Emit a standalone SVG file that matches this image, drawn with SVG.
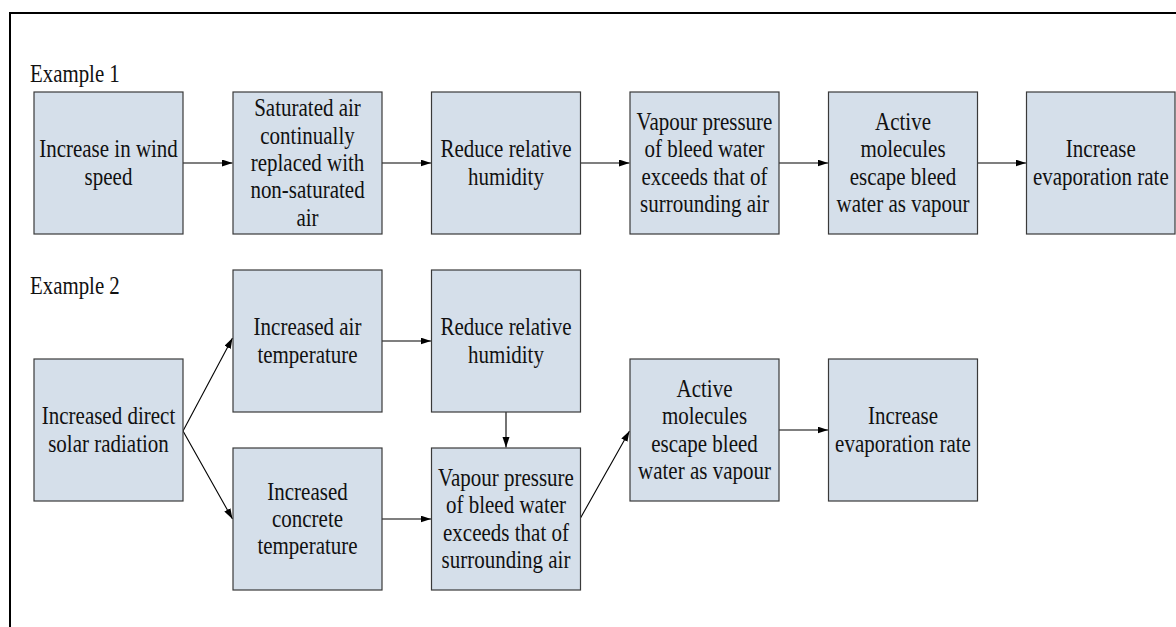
<svg xmlns="http://www.w3.org/2000/svg" width="1176" height="627" viewBox="0 0 1176 627">
<style>
.bg{fill:#ffffff}
.frame{fill:none;stroke:#000000;stroke-width:2}
.box{fill:#d5dfea;stroke:#3a3a3a;stroke-width:1.2}
.t{font-family:"Liberation Serif","Times New Roman",serif;font-size:25px;fill:#111111;text-anchor:middle}
.lbl{font-family:"Liberation Serif","Times New Roman",serif;font-size:25px;fill:#111111;text-anchor:start}
.c{fill:none;stroke:#000000;stroke-width:1.1}
</style>
<defs>
<marker id="arr" markerUnits="userSpaceOnUse" markerWidth="11" markerHeight="8" refX="10.5" refY="3.5" orient="auto">
<path d="M0,0 L10.5,3.5 L0,7 z" fill="#000000"/>
</marker>
</defs>
<rect class="bg" x="0" y="0" width="1176" height="627"/>
<path class="frame" d="M10,627 V13 H1176"/>
<text class="lbl" transform="translate(30 0) scale(0.835 1)" x="0" y="82">Example 1</text>
<text class="lbl" transform="translate(30 0) scale(0.835 1)" x="0" y="294">Example 2</text>

<g id="connectors">
<path class="c" marker-end="url(#arr)" d="M183,163 H232.5"/>
<path class="c" marker-end="url(#arr)" d="M382,163 H431"/>
<path class="c" marker-end="url(#arr)" d="M580.5,163 H629.5"/>
<path class="c" marker-end="url(#arr)" d="M779,163 H828"/>
<path class="c" marker-end="url(#arr)" d="M977.5,163 H1026"/>
<path class="c" marker-end="url(#arr)" d="M183,431 L232.5,338"/>
<path class="c" marker-end="url(#arr)" d="M183,431 L232.5,519"/>
<path class="c" marker-end="url(#arr)" d="M382,341 H431"/>
<path class="c" marker-end="url(#arr)" d="M382,519 H431"/>
<path class="c" marker-end="url(#arr)" d="M506,412 V447.5"/>
<path class="c" marker-end="url(#arr)" d="M580.5,518 L629.5,431"/>
<path class="c" marker-end="url(#arr)" d="M778.5,430 H828"/>
</g>

<g id="e1-wind">
<rect class="box" x="34" y="92" width="149" height="142"/>
<text class="t" transform="translate(108.5 0) scale(0.84 1)"><tspan x="0" y="157.3">Increase in wind</tspan><tspan x="0" y="184.7">speed</tspan></text>
</g>
<g id="e1-saturated">
<rect class="box" x="233" y="92" width="149" height="142"/>
<text class="t" transform="translate(307.5 0) scale(0.84 1)"><tspan x="0" y="116.2">Saturated air</tspan><tspan x="0" y="143.6">continually</tspan><tspan x="0" y="171">replaced  with</tspan><tspan x="0" y="198.4">non-saturated</tspan><tspan x="0" y="225.8">air</tspan></text>
</g>
<g id="e1-humidity">
<rect class="box" x="431.5" y="92" width="149" height="142"/>
<text class="t" transform="translate(506 0) scale(0.84 1)"><tspan x="0" y="157.3">Reduce relative</tspan><tspan x="0" y="184.7">humidity</tspan></text>
</g>
<g id="e1-vapour">
<rect class="box" x="630" y="92" width="149" height="142"/>
<text class="t" transform="translate(704.5 0) scale(0.84 1)"><tspan x="0" y="130">Vapour pressure</tspan><tspan x="0" y="157.4">of bleed water</tspan><tspan x="0" y="184.8">exceeds that of</tspan><tspan x="0" y="212.2">surrounding air</tspan></text>
</g>
<g id="e1-active">
<rect class="box" x="828.5" y="92" width="149" height="142"/>
<text class="t" transform="translate(903 0) scale(0.84 1)"><tspan x="0" y="130">Active</tspan><tspan x="0" y="157.4">molecules</tspan><tspan x="0" y="184.8">escape bleed</tspan><tspan x="0" y="212.2">water as vapour</tspan></text>
</g>
<g id="e1-evaporation">
<rect class="box" x="1026.5" y="92" width="148.5" height="142"/>
<text class="t" transform="translate(1100.8 0) scale(0.84 1)"><tspan x="0" y="157.3">Increase</tspan><tspan x="0" y="184.7">evaporation rate</tspan></text>
</g>

<g id="e2-solar">
<rect class="box" x="34" y="359" width="149" height="142"/>
<text class="t" transform="translate(108.5 0) scale(0.84 1)"><tspan x="0" y="424.3">Increased direct</tspan><tspan x="0" y="451.7">solar radiation</tspan></text>
</g>
<g id="e2-airtemp">
<rect class="box" x="233" y="270" width="149" height="142"/>
<text class="t" transform="translate(307.5 0) scale(0.84 1)"><tspan x="0" y="335.3">Increased air</tspan><tspan x="0" y="362.7">temperature</tspan></text>
</g>
<g id="e2-concrete">
<rect class="box" x="233" y="448" width="149" height="142"/>
<text class="t" transform="translate(307.5 0) scale(0.84 1)"><tspan x="0" y="499.6">Increased</tspan><tspan x="0" y="527">concrete</tspan><tspan x="0" y="554.4">temperature</tspan></text>
</g>
<g id="e2-humidity">
<rect class="box" x="431.5" y="270" width="149" height="142"/>
<text class="t" transform="translate(506 0) scale(0.84 1)"><tspan x="0" y="335.3">Reduce relative</tspan><tspan x="0" y="362.7">humidity</tspan></text>
</g>
<g id="e2-vapour">
<rect class="box" x="431.5" y="448" width="149" height="142"/>
<text class="t" transform="translate(506 0) scale(0.84 1)"><tspan x="0" y="486">Vapour pressure</tspan><tspan x="0" y="513.4">of bleed water</tspan><tspan x="0" y="540.8">exceeds that of</tspan><tspan x="0" y="568.2">surrounding air</tspan></text>
</g>
<g id="e2-active">
<rect class="box" x="630" y="359" width="149" height="142"/>
<text class="t" transform="translate(704.5 0) scale(0.84 1)"><tspan x="0" y="397">Active</tspan><tspan x="0" y="424.4">molecules</tspan><tspan x="0" y="451.8">escape bleed</tspan><tspan x="0" y="479.2">water as vapour</tspan></text>
</g>
<g id="e2-evaporation">
<rect class="box" x="828.5" y="359" width="149" height="142"/>
<text class="t" transform="translate(903 0) scale(0.84 1)"><tspan x="0" y="424.3">Increase</tspan><tspan x="0" y="451.7">evaporation rate</tspan></text>
</g>
</svg>
